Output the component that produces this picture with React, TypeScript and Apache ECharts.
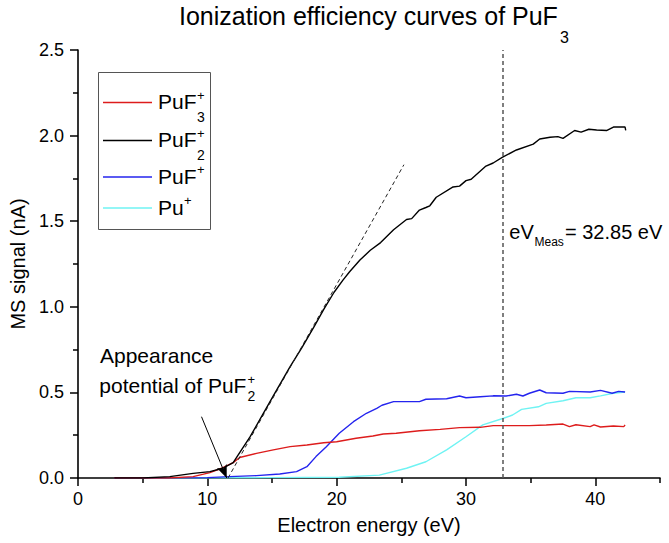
import React, { useEffect, useRef } from "react";
import * as echarts from "echarts";

const FONT = '"Liberation Sans", Arial, Helvetica, sans-serif';

// ---- data ----
const puf3Energy = [2.8, 7.0, 8.9, 10.2, 11.2, 12.0, 12.5, 13.8, 15.1, 16.4, 17.7, 19.0, 20.0, 21.5, 22.8, 23.6, 24.6, 26.4, 28.0, 29.5, 31.1, 32.1, 33.6, 34.9, 36.2, 37.5, 38.0, 38.5, 39.6, 39.9, 40.4, 41.4, 42.2, 42.3];
const puf3Signal = [0, 0, 0.008, 0.031, 0.06, 0.09, 0.12, 0.144, 0.164, 0.183, 0.193, 0.206, 0.212, 0.232, 0.245, 0.257, 0.261, 0.276, 0.284, 0.294, 0.296, 0.306, 0.306, 0.306, 0.31, 0.315, 0.3, 0.311, 0.3, 0.31, 0.298, 0.304, 0.3, 0.31];

const puf2Energy = [2.8, 5.0, 7.1, 8.9, 10.2, 11.2, 12.0, 12.3, 13.3, 14.2, 15.1, 16.4, 17.3, 18.3, 19.0, 19.8, 20.5, 21.0, 21.8, 22.6, 23.4, 24.4, 25.4, 25.8, 26.4, 26.9, 27.2, 27.7, 29.0, 29.5, 30.0, 30.4, 31.5, 32.1, 32.8, 33.9, 35.2, 35.7, 36.5, 37.1, 37.5, 38.4, 38.9, 39.5, 40.1, 40.9, 41.4, 41.9, 42.3, 42.35];
const puf2Signal = [0, 0, 0.008, 0.027, 0.037, 0.057, 0.09, 0.125, 0.24, 0.36, 0.48, 0.65, 0.76, 0.89, 0.985, 1.085, 1.157, 1.205, 1.273, 1.33, 1.375, 1.45, 1.51, 1.515, 1.565, 1.58, 1.59, 1.64, 1.7, 1.705, 1.737, 1.745, 1.82, 1.84, 1.873, 1.916, 1.95, 1.98, 1.99, 1.994, 1.984, 2.03, 2.02, 2.037, 2.033, 2.03, 2.05, 2.05, 2.05, 2.03];

const pufEnergy = [2.8, 10.0, 11.7, 13.8, 15.6, 16.9, 17.7, 18.4, 19.2, 20.2, 21.3, 22.3, 23.1, 23.5, 24.4, 26.4, 26.9, 28.5, 29.5, 30.0, 31.1, 32.1, 33.1, 33.9, 34.4, 34.9, 35.7, 36.2, 37.5, 38.0, 39.6, 40.4, 41.3, 41.8, 42.3];
const pufSignal = [0, 0.002, 0.008, 0.014, 0.023, 0.037, 0.066, 0.125, 0.183, 0.261, 0.329, 0.378, 0.407, 0.425, 0.446, 0.446, 0.46, 0.463, 0.479, 0.469, 0.475, 0.48, 0.479, 0.489, 0.479, 0.495, 0.514, 0.498, 0.495, 0.506, 0.502, 0.512, 0.495, 0.506, 0.502];

const puEnergy = [2.8, 15.0, 20.2, 23.3, 25.4, 26.9, 28.5, 30.0, 31.3, 32.9, 33.6, 34.3, 35.6, 36.2, 37.5, 38.5, 39.6, 40.4, 41.4, 42.3];
const puSignal = [0, 0.002, 0.004, 0.017, 0.057, 0.095, 0.164, 0.241, 0.31, 0.349, 0.368, 0.401, 0.416, 0.436, 0.451, 0.469, 0.469, 0.48, 0.495, 0.502];

const tangentEnergy = [11.6, 25.2];
const tangentSignal = [0, 1.83];

const arrowFrom = [9.55, 0.358];
const arrowTo = [11.5, 0];

const eVMeas = 32.85;

const xMajorTicks = [0, 10, 20, 30, 40];
const xMinorTicks = [5, 15, 25, 35, 45];

const legendBase = ["PuF", "PuF", "PuF", "Pu"];
const legendSup = ["+", "+", "+", "+"];
const legendSub = ["3", "2", "", ""];
const seriesColors = ["#dd1c1c", "#000000", "#2424ee", "#6ff3f3"];

const zip = (xs: number[], ys: number[]) => xs.map((x, i) => [x, ys[i]]);

function txt(x: number, y: number, text: string, size: number) {
  return {
    type: "text",
    x,
    y,
    silent: true,
    style: {
      text,
      fontSize: size,
      fontFamily: FONT,
      fill: "#000",
      align: "left",
      verticalAlign: "middle",
      textAlign: "left",
      textVerticalAlign: "middle",
    },
  };
}

export default function App() {
  const ref = useRef<HTMLDivElement>(null);
  useEffect(() => {
    if (!ref.current) return;
    const chart = echarts.init(ref.current, null, { renderer: "svg" });

    const legendRows = [101.5, 139.5, 176, 207];
    const legendEls: any[] = [
      {
        type: "rect",
        shape: { x: 98.5, y: 72.5, width: 112, height: 157 },
        style: { fill: "#fff", stroke: "#555", lineWidth: 1 },
        silent: true,
      },
    ];
    legendBase.forEach((b, i) => {
      const y = legendRows[i];
      legendEls.push({
        type: "line",
        shape: { x1: 103, y1: y + 1, x2: 152, y2: y + 1 },
        style: { stroke: seriesColors[i], lineWidth: 1.3 },
        silent: true,
      });
      legendEls.push(txt(158, y, b, 21));
      const bw = b === "Pu" ? 26 : 39;
      legendEls.push(txt(158 + bw, y - 6.5, legendSup[i], 13));
      if (legendSub[i]) legendEls.push(txt(158 + bw, y + 15, legendSub[i], 14));
    });

    const option: any = {
      animation: false,
      textStyle: { fontFamily: FONT },
      grid: { left: 78, right: 9, top: 50, bottom: 65 },
      xAxis: [
        {
          type: "value",
          min: 0,
          max: 45,
          interval: 5,
          name: "Electron energy (eV)",
          nameLocation: "middle",
          nameGap: 37,
          nameTextStyle: { fontSize: 20, color: "#000", fontFamily: FONT },
          axisLine: { show: true, lineStyle: { color: "#000", width: 1.6 } },
          axisTick: { show: true, inside: false, length: 8, customValues: xMajorTicks, lineStyle: { color: "#000", width: 1.5 } },
          axisLabel: { customValues: xMajorTicks, fontSize: 18, color: "#000", margin: 12, fontFamily: FONT },
          splitLine: { show: false },
        },
        {
          type: "value",
          min: 0,
          max: 45,
          interval: 5,
          position: "bottom",
          axisLine: { show: false },
          axisTick: { show: true, inside: false, length: 5, customValues: xMinorTicks, lineStyle: { color: "#000", width: 1.5 } },
          axisLabel: { show: false },
          splitLine: { show: false },
        },
      ],
      yAxis: {
        type: "value",
        min: 0,
        max: 2.5,
        interval: 0.5,
        name: "MS signal (nA)",
        nameLocation: "middle",
        nameGap: 48,
        nameTextStyle: { fontSize: 20, color: "#000", fontFamily: FONT },
        axisLine: { show: true, lineStyle: { color: "#000", width: 1.6 } },
        axisTick: { show: true, inside: false, length: 8, lineStyle: { color: "#000", width: 1.5 } },
        minorTick: { show: true, splitNumber: 2, length: 5, lineStyle: { color: "#000", width: 1.5 } },
        axisLabel: { fontSize: 18, color: "#000", margin: 14, fontFamily: FONT, formatter: (v: number) => v.toFixed(1) },
        splitLine: { show: false },
      },
      series: [
        {
          name: "Pu+",
          type: "line",
          data: zip(puEnergy, puSignal),
          symbol: "none",
          lineStyle: { color: seriesColors[3], width: 1.4 },
          silent: true,
          markLine: {
            silent: true,
            symbol: ["none", "none"],
            label: { show: false },
            lineStyle: { color: "#555", width: 1.5, type: [4, 3] },
            data: [{ xAxis: eVMeas }],
          },
        },
        {
          name: "PuF+",
          type: "line",
          data: zip(pufEnergy, pufSignal),
          symbol: "none",
          lineStyle: { color: seriesColors[2], width: 1.4 },
          silent: true,
        },
        {
          name: "PuF3+",
          type: "line",
          data: zip(puf3Energy, puf3Signal),
          symbol: "none",
          lineStyle: { color: seriesColors[0], width: 1.4 },
          silent: true,
        },
        {
          name: "PuF2+",
          type: "line",
          data: zip(puf2Energy, puf2Signal),
          symbol: "none",
          lineStyle: { color: seriesColors[1], width: 1.4 },
          silent: true,
        },
        {
          name: "tangent",
          type: "line",
          data: zip(tangentEnergy, tangentSignal),
          symbol: "none",
          lineStyle: { color: "#222", width: 1, type: [4, 3] },
          silent: true,
          markLine: {
            silent: true,
            symbol: ["none", "arrow"],
            symbolSize: [8, 13],
            label: { show: false },
            lineStyle: { color: "#000", width: 1, type: "solid" },
            data: [[{ coord: arrowFrom }, { coord: arrowTo }]],
          },
        },
      ],
      graphic: [
        txt(179, 16, "Ionization efficiency curves of PuF", 25),
        txt(560, 37.5, "3", 16),
        ...legendEls,
        txt(100, 355, "Appearance", 21),
        txt(99.3, 385, "potential of PuF", 21),
        txt(247.5, 379, "+", 13),
        txt(247.5, 396, "2", 14),
        txt(509.3, 232, "eV", 20),
        txt(534.5, 242.3, "Meas", 12),
        txt(565, 232, "= 32.85 eV", 20),
      ],
    };
    chart.setOption(option);
    return () => chart.dispose();
  }, []);
  return (
    <div
      ref={ref}
      style={{ position: "fixed", left: 0, top: 0, width: 669, height: 543, background: "#fff" }}
    />
  );
}
